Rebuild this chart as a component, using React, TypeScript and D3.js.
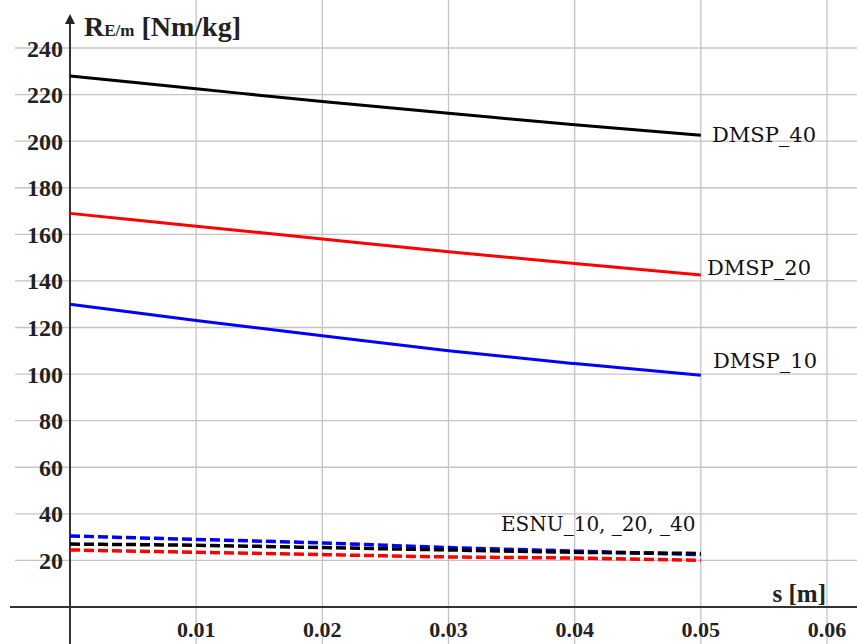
import { useEffect, useRef } from 'react';
import * as d3 from 'd3';

// s [m] positions of the sampled points
const sValues = [0, 0.01, 0.02, 0.03, 0.04, 0.05];

// DMSP series (solid)
const dmsp40 = [228, 222.5, 217, 212, 207, 202.5];
const dmsp20 = [169, 163.5, 158, 152.5, 147.5, 142.5];
const dmsp10 = [130, 123, 116.5, 110, 104.5, 99.5];

// ESNU series (dashed)
const esnu10 = [30.5, 29, 27.5, 25.5, 24, 22.5];
const esnu40 = [27, 26.5, 25.5, 24.5, 23.5, 23];
const esnu20 = [24.5, 23.5, 22.5, 21.5, 21, 20];

const xTicks = [0.01, 0.02, 0.03, 0.04, 0.05, 0.06];
const yTicks = [20, 40, 60, 80, 100, 120, 140, 160, 180, 200, 220, 240];

const W = 857;
const H = 644;

export default function App() {
  const svgRef = useRef<SVGSVGElement>(null);

  useEffect(() => {
    const svg = d3.select(svgRef.current);
    svg.selectAll('*').remove();

    const x = d3.scaleLinear().domain([0, 0.06]).range([70, 827]);
    const y = d3.scaleLinear().domain([0, 240]).range([607, 48]);
    const font = '"Liberation Serif", "DejaVu Serif", serif';
    const labelFont = '"DejaVu Serif", "Liberation Serif", serif';

    svg.append('rect').attr('width', W).attr('height', H).attr('fill', '#fff');

    // grid
    svg.append('g')
      .selectAll('line')
      .data(yTicks)
      .enter()
      .append('line')
      .attr('x1', 15)
      .attr('x2', W)
      .attr('y1', d => y(d))
      .attr('y2', d => y(d))
      .attr('stroke', '#c4c4c4')
      .attr('stroke-width', 1.3);

    svg.append('g')
      .selectAll('line')
      .data(xTicks)
      .enter()
      .append('line')
      .attr('x1', d => x(d))
      .attr('x2', d => x(d))
      .attr('y1', 0)
      .attr('y2', H)
      .attr('stroke', '#c4c4c4')
      .attr('stroke-width', 1.3);

    // axes
    svg.append('line')
      .attr('x1', 10).attr('x2', W)
      .attr('y1', y(0)).attr('y2', y(0))
      .attr('stroke', '#333').attr('stroke-width', 2);
    svg.append('line')
      .attr('x1', x(0)).attr('x2', x(0))
      .attr('y1', 22).attr('y2', H)
      .attr('stroke', '#333').attr('stroke-width', 2);
    svg.append('path')
      .attr('d', `M${x(0) - 5},${24} L${x(0)},${14} L${x(0) + 5},${24} Z`)
      .attr('fill', '#222');

    // tick labels
    svg.append('g')
      .selectAll('text')
      .data(yTicks)
      .enter()
      .append('text')
      .attr('x', 63)
      .attr('y', d => y(d) + 8.5)
      .attr('text-anchor', 'end')
      .style('font-family', font)
      .style('font-weight', 'bold')
      .style('font-size', '24px')
      .style('fill', '#222')
      .text(d => d);

    svg.append('g')
      .selectAll('text')
      .data(xTicks)
      .enter()
      .append('text')
      .attr('x', d => x(d))
      .attr('y', 637)
      .attr('text-anchor', 'middle')
      .style('font-family', font)
      .style('font-weight', 'bold')
      .style('font-size', '22px')
      .style('fill', '#222')
      .text(d => d.toFixed(2));

    // axis titles
    const yTitle = svg.append('text')
      .attr('x', 84)
      .attr('y', 36)
      .style('font-family', font)
      .style('font-weight', 'bold')
      .style('font-size', '28px')
      .style('fill', '#222');
    yTitle.append('tspan').text('R');
    yTitle.append('tspan').style('font-size', '17px').text('E/m');
    yTitle.append('tspan').text(' [Nm/kg]');

    svg.append('text')
      .attr('x', 826)
      .attr('y', 602)
      .attr('text-anchor', 'end')
      .style('font-family', font)
      .style('font-weight', 'bold')
      .style('font-size', '25px')
      .style('fill', '#222')
      .text('s [m]');

    // lines
    const line = d3.line<number>()
      .x((_, i) => x(sValues[i]))
      .y(d => y(d))
      .curve(d3.curveMonotoneX);

    const solid: [number[], string][] = [
      [dmsp40, '#000'],
      [dmsp20, '#ff0000'],
      [dmsp10, '#0000ff'],
    ];
    solid.forEach(([vals, color]) => {
      svg.append('path')
        .datum(vals)
        .attr('fill', 'none')
        .attr('stroke', color)
        .attr('stroke-width', 3)
        .attr('d', line);
    });

    const dashed: [number[], string][] = [
      [esnu20, '#ff0000'],
      [esnu10, '#0000ff'],
      [esnu40, '#000'],
    ];
    dashed.forEach(([vals, color]) => {
      svg.append('path')
        .datum(vals)
        .attr('fill', 'none')
        .attr('stroke', color)
        .attr('stroke-width', 3.5)
        .attr('stroke-dasharray', '10,4')
        .attr('d', line);
    });

    // series labels
    const labels: [string, number, number, number][] = [
      ['DMSP_40', 712, 142, 21],
      ['DMSP_20', 707, 275, 21],
      ['DMSP_10', 713, 368, 21],
      ['ESNU_10, _20, _40', 501, 531, 20],
    ];
    svg.append('g')
      .selectAll('text')
      .data(labels)
      .enter()
      .append('text')
      .attr('x', d => d[1])
      .attr('y', d => d[2])
      .style('font-family', labelFont)
      .style('font-size', d => `${d[3]}px`)
      .style('fill', '#111')
      .text(d => d[0]);
  }, []);

  return (
    <svg
      ref={svgRef}
      width={W}
      height={H}
      style={{ position: 'absolute', left: 0, top: 0, display: 'block' }}
    />
  );
}
